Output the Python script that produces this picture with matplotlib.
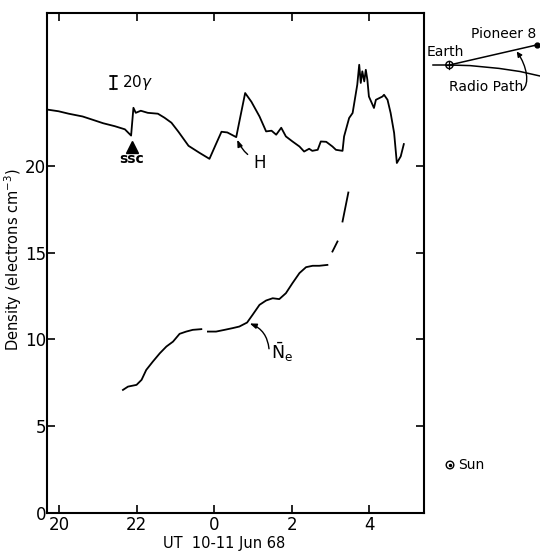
import numpy as np
import matplotlib
matplotlib.use("Agg")
import matplotlib.pyplot as plt
from matplotlib.patches import Circle, FancyArrowPatch
from matplotlib.path import Path

# ---------------- data ----------------
# hours: 20..23 on 10 Jun, 24.. = 0.. on 11 Jun
h_time = [19.72, 19.99, 20.25, 20.61, 20.87, 21.14, 21.44, 21.70, 21.86, 21.92, 21.98, 22.11,
          22.29, 22.55, 22.72, 22.90, 23.08, 23.34, 23.62, 23.88, 24.04, 24.19, 24.34, 24.57,
          24.65, 24.80, 24.96, 25.17, 25.34, 25.48, 25.60, 25.73, 25.85, 26.02, 26.20, 26.32,
          26.45, 26.53, 26.67, 26.75, 26.89, 27.05, 27.14, 27.31, 27.35, 27.48, 27.57, 27.69,
          27.74, 27.78, 27.82, 27.87, 27.91, 27.95, 27.99, 28.12, 28.17, 28.34, 28.38, 28.47,
          28.55, 28.64, 28.71, 28.81, 28.89]
h_value = [23.23, 23.14, 23.00, 22.84, 22.65, 22.45, 22.28, 22.10, 21.74, 23.34, 23.05, 23.17,
           23.05, 23.00, 22.77, 22.48, 21.96, 21.15, 20.75, 20.40, 21.21, 21.96, 21.92, 21.65,
           22.54, 24.19, 23.69, 22.84, 21.98, 22.02, 21.79, 22.19, 21.69, 21.40, 21.11, 20.82,
           20.98, 20.86, 20.92, 21.40, 21.38, 21.11, 20.92, 20.86, 21.69, 22.75, 23.04, 24.67,
           25.82, 24.77, 25.44, 24.86, 25.53, 24.96, 23.99, 23.33, 23.80, 23.99, 24.09, 23.80,
           23.04, 21.89, 20.16, 20.54, 21.25]

ne_time = [21.65, 21.78, 22.00, 22.13, 22.25, 22.42, 22.60, 22.77, 22.94, 23.11, 23.28, 23.45, 23.67,
           np.nan,
           23.84, 24.05, 24.27, 24.48, 24.65, 24.85, 24.99, 25.17, 25.34, 25.51, 25.68, 25.85,
           26.02, 26.20, 26.37, 26.54, 26.71, 26.92,
           np.nan, 27.05, 27.18,
           np.nan, 27.31, 27.46]
ne_value = [7.09, 7.28, 7.38, 7.67, 8.24, 8.72, 9.20, 9.59, 9.87, 10.32, 10.45, 10.55, 10.59,
            np.nan,
            10.45, 10.45, 10.55, 10.65, 10.74, 10.97, 11.41, 11.99, 12.24, 12.37, 12.32, 12.66,
            13.24, 13.82, 14.16, 14.24, 14.24, 14.29,
            np.nan, 15.06, 15.64,
            np.nan, 16.79, 18.46]

x_ticks = [20, 22, 24, 26, 28]
x_tick_labels = ["20", "22", "0", "2", "4"]
y_ticks = [0, 5, 10, 15, 20]

# ---------------- figure ----------------
W, H = 540, 552
fig = plt.figure(figsize=(W / 100, H / 100), dpi=100)
plt.rcParams['font.family'] = ['DejaVu Sans']

ax = fig.add_axes([47.3 / W, 1 - 513 / H, (424 - 47.3) / W, (513 - 13) / H])
ax.set_xlim(19.70, 29.41)
ax.set_ylim(0, 28.8)

ax.plot(h_time, h_value, color='black', lw=1.3)
ax.plot(ne_time, ne_value, color='black', lw=1.3)

ax.set_xticks(x_ticks)
ax.set_xticklabels(x_tick_labels)
ax.set_yticks(y_ticks)
ax.tick_params(direction='in', length=6, width=1.2, labelsize=12,
               top=True, right=True, pad=2)
ax.tick_params(axis='y', pad=1)
for s in ax.spines.values():
    s.set_linewidth(1.5)

ax.set_xlabel("UT  10-11 Jun 68", fontsize=10.5)
ax.xaxis.set_label_coords(0.469, -0.046)
ax.set_ylabel(r"Density (electrons cm$^{-3}$)", fontsize=10.5)
ax.yaxis.set_label_coords(-0.09, 0.506)
ax.yaxis.label.set_va('center')

# ssc marker
ax.plot([21.88], [21.11], marker='^', color='black', markersize=8, ls='none')
ax.text(21.87, 20.40, "ssc", fontsize=10, ha='center', va='center', fontweight='bold')

# 20 gamma scale bar
ax.annotate("", xy=(21.40, 25.34), xytext=(21.40, 24.25),
            arrowprops=dict(arrowstyle='|-|,widthA=0.25,widthB=0.25', lw=1.3, color='black'))
ax.text(21.62, 24.78, r"20$\gamma$", fontsize=11, ha='left', va='center')

# H label
ax.annotate("", xy=(24.57, 21.65), xytext=(24.92, 20.55),
            arrowprops=dict(arrowstyle='-|>,head_length=0.4,head_width=0.15', lw=1.0,
                            color='black', connectionstyle='arc3,rad=-0.15'))
ax.text(25.00, 20.15, "H", fontsize=12, ha='left', va='center')

# Ne label
ax.annotate("", xy=(24.85, 10.97), xytext=(25.42, 9.30),
            arrowprops=dict(arrowstyle='-|>,head_length=0.4,head_width=0.15', lw=1.0,
                            color='black', connectionstyle='arc3,rad=0.35'))
ax.text(25.46, 9.25, r"$\bar{\mathrm{N}}_\mathrm{e}$", fontsize=12.5, ha='left', va='center')

# ---------------- geometry inset (figure pixel coords) ----------------
ov = fig.add_axes([0, 0, 1, 1], facecolor='none')
ov.set_xlim(0, W)
ov.set_ylim(H, 0)
ov.axis('off')

earth = (449.4, 65.0)
ov.plot([earth[0], 536.5], [earth[1], 45], color='black', lw=1.1)
ov.plot([536.5], [45], marker='o', color='black', markersize=3.5)
rp_x = [433, 449.4, 470, 499, 520, 540]
rp_y = [65, 65, 65.6, 68.4, 71.5, 76]
ov.plot(rp_x, rp_y, color='black', lw=1.1)
ov.add_patch(Circle(earth, 3.6, fill=False, lw=1.0, color='black'))
ov.plot([earth[0] - 3.6, earth[0] + 3.6], [earth[1], earth[1]], color='black', lw=0.9)
ov.plot([earth[0], earth[0]], [earth[1] - 3.6, earth[1] + 3.6], color='black', lw=0.9)

ov.text(427, 52, "Earth", fontsize=10, ha='left', va='center')
ov.text(536, 34, "Pioneer 8", fontsize=10, ha='right', va='center')
ov.text(449, 87, "Radio Path", fontsize=10, ha='left', va='center')

# angle arc with arrow
verts = [(522.5, 90), (530, 84), (527, 66), (516.7, 51.5)]
arc = FancyArrowPatch(path=Path(verts, [Path.MOVETO, Path.CURVE4, Path.CURVE4, Path.CURVE4]),
                      arrowstyle='-|>,head_length=3,head_width=1.5', lw=1.0, color='black')
ov.add_patch(arc)

# Sun
sun = (450, 465)
ov.add_patch(Circle(sun, 3.8, fill=False, lw=1.0, color='black'))
ov.plot([sun[0]], [sun[1]], marker='o', color='black', markersize=1.5)
ov.text(458, 465, "Sun", fontsize=10, ha='left', va='center')

fig.savefig("out.png", dpi=100)
